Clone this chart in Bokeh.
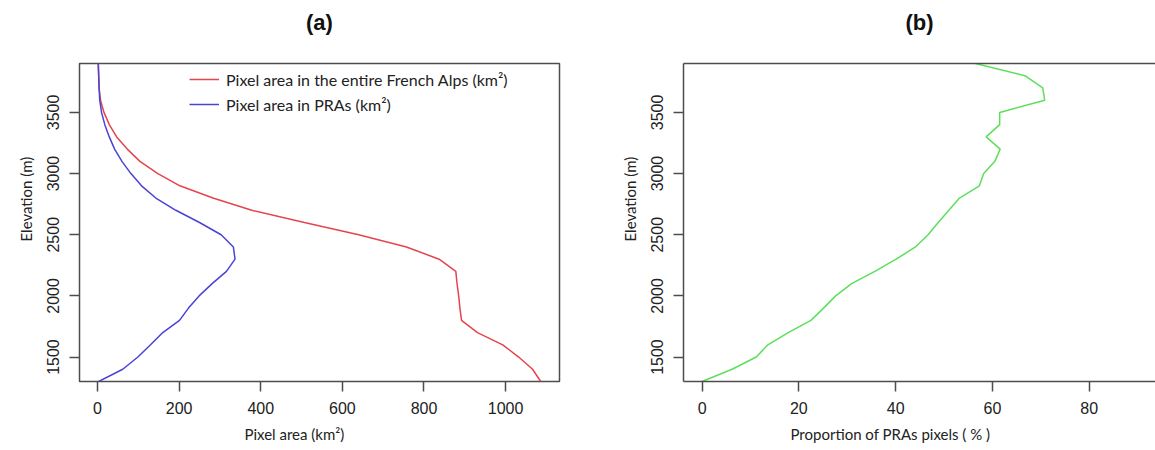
from bokeh.plotting import figure
from bokeh.layouts import row
from bokeh.models import FixedTicker, LinearAxis, Range1d, Legend, LegendItem, Title
from bokeh.embed import file_html
from bokeh.resources import INLINE

# Elevation bands (m), 100 m steps
elevation = [1300, 1400, 1500, 1600, 1700, 1800, 1900, 2000, 2100, 2200, 2300,
             2400, 2500, 2600, 2700, 2800, 2900, 3000, 3100, 3200, 3300, 3400,
             3500, 3600, 3700, 3800, 3900]

# Pixel area in the entire French Alps (km2)
area_alps = [1086, 1066, 1032, 993, 931, 892, 888, 885, 881, 878, 837,
             757, 640, 507, 378, 283, 202, 148, 104, 73, 47, 29,
             16, 7.5, 4, 3, 2]

# Pixel area in PRAs (km2)
area_pras = [3, 62, 99, 130, 160, 201, 223, 249, 281, 316, 337,
             333, 303, 250, 192, 143, 108, 82, 60, 42, 29, 18,
             10, 5.6, 4, 3, 2]

# Proportion of PRA pixels (%)
pra_share = [0, 6.2, 11.2, 13.6, 17.8, 22.5, 25.1, 27.6, 30.9, 35.7, 40.1,
             44.1, 46.7, 48.8, 51.0, 53.2, 57.3, 58.2, 60.5, 61.6, 58.7, 61.5,
             61.5, 70.8, 70.4, 66.7, 56.5]

area_ticks = [0, 200, 400, 600, 800, 1000]
share_ticks = [0, 20, 40, 60, 80]
elev_ticks = [1500, 2000, 2500, 3000, 3500]

RED = "#e4454d"
BLUE = "#4a43d4"
GREEN = "#5cdf5a"
FRAME = "#4d4d4d"
TICK_FONT = "Liberation Sans"
LABEL_FONT = "Lato"
Y0, Y1 = 1300, 3900


def style_axis(ax, ticks, vertical=False, line=True):
    ax.ticker = FixedTicker(ticks=ticks)
    ax.major_label_text_font = TICK_FONT
    ax.major_label_text_font_size = "16px"
    ax.major_label_text_color = "#222222"
    ax.major_label_standoff = 10
    ax.major_tick_out = 10
    ax.major_tick_in = 0
    ax.major_tick_line_color = FRAME
    ax.major_tick_line_width = 1.5
    ax.minor_tick_line_color = None
    ax.axis_line_color = FRAME if line else None
    ax.axis_line_width = 1.5
    if vertical:
        ax.major_label_orientation = "vertical"


def side_title(p, text, side, offset, standoff):
    # axis caption set in a side panel, shifted along the axis by `offset` px
    p.add_layout(Title(text=text, align="left", offset=offset, standoff=standoff,
                       text_font=LABEL_FONT, text_font_size="15px",
                       text_font_style="normal", text_color="#222222"), side)


def base_figure(title, width, x_range, x_ticks, x_caption, x_offset,
                border_left, border_right, boxed):
    p = figure(width=width, height=450, output_backend="svg", toolbar_location=None,
               x_range=x_range, y_range=Range1d(Y0, Y1), title_location=None,
               min_border_left=border_left, min_border_right=border_right,
               min_border_top=63, min_border_bottom=69)
    p.xgrid.grid_line_color = None
    p.ygrid.grid_line_color = None
    p.background_fill_color = "white"
    p.border_fill_color = "white"
    if boxed:
        p.outline_line_color = FRAME
        p.outline_line_width = 1.5
        p.outline_line_alpha = 1
    else:
        p.outline_line_color = None

    style_axis(p.below[0], x_ticks, line=not boxed)
    style_axis(p.left[0], elev_ticks, vertical=True, line=not boxed)
    side_title(p, x_caption, "below", x_offset, 12)
    side_title(p, "Elevation (m)", "left", 140, 20)

    # tickless axis along the top edge, carrying the panel letter as its label
    top = LinearAxis(ticker=FixedTicker(ticks=[]), major_tick_out=0, major_tick_in=0,
                     major_label_text_font_size="0px",
                     axis_line_color=None if boxed else FRAME,
                     axis_line_width=1.5, minor_tick_line_color=None,
                     axis_label=title, axis_label_standoff=29,
                     axis_label_text_font=TICK_FONT, axis_label_text_font_size="22px",
                     axis_label_text_font_style="bold", axis_label_text_color="#111111")
    p.add_layout(top, "above")
    return p


# (a) pixel area by elevation
pa = base_figure("(a)", 600, Range1d(-44, 1132), area_ticks, "Pixel area (km²)", 165,
                 79, 41, boxed=True)
r_alps = pa.line(area_alps, elevation, line_color=RED, line_width=1.5)
r_pras = pa.line(area_pras, elevation, line_color=BLUE, line_width=1.5)

legend = Legend(items=[LegendItem(label="Pixel area in the entire French Alps (km²)", renderers=[r_alps]),
                       LegendItem(label="Pixel area in PRAs (km²)", renderers=[r_pras])],
                location=(110, 267), orientation="vertical")
legend.background_fill_alpha = 0
legend.border_line_color = None
legend.padding = 0
legend.margin = 0
legend.spacing = 5
legend.glyph_width = 30
legend.glyph_height = 20
legend.label_height = 20
legend.label_standoff = 7
legend.label_text_font = LABEL_FONT
legend.label_text_font_size = "16px"
legend.label_text_color = "#222222"
pa.add_layout(legend)

# (b) share of PRA pixels by elevation
pb = base_figure("(b)", 555, Range1d(-3.84, 93.7), share_ticks,
                 "Proportion of PRAs pixels ( % )", 107, 83, 0, boxed=False)
pb.line(pra_share, elevation, line_color=GREEN, line_width=1.5)

layout = row(pa, pb, spacing=0)
open("out.html", "w").write(file_html(layout, INLINE))
